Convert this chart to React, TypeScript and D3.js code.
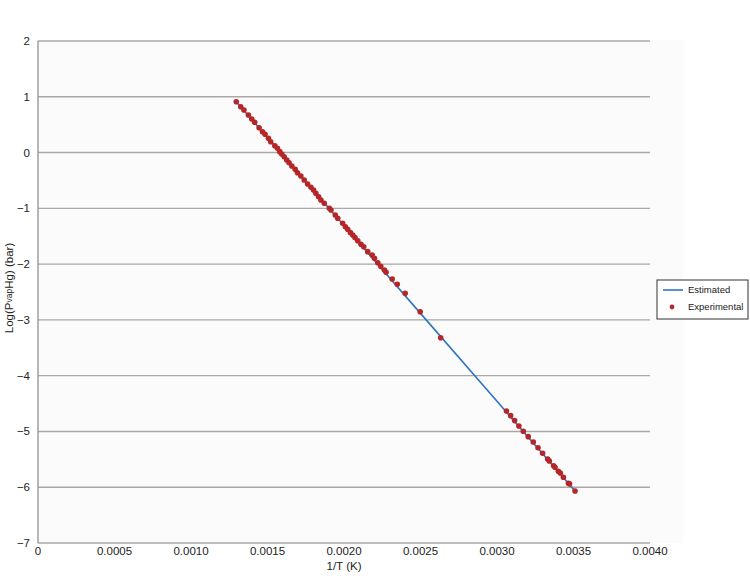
import React from 'react';
import * as d3 from 'd3';

// 1/T (1/K) and log10(P) (bar) of the experimental points
const expInvT = [
  0.001296, 0.001325, 0.001346, 0.001375, 0.001397, 0.001416, 0.001445, 0.001467, 0.001484, 0.001506,
  0.001521, 0.001548, 0.001565, 0.001580, 0.001593, 0.001609, 0.001626, 0.001641, 0.001659, 0.001681,
  0.001696, 0.001718, 0.001740, 0.001762, 0.001784, 0.001801, 0.001816, 0.001834, 0.001849, 0.001871,
  0.001904, 0.001915, 0.001943, 0.001959, 0.001991, 0.002009, 0.002024, 0.002042, 0.002057, 0.002072,
  0.002090, 0.002111, 0.002129, 0.002155, 0.002184, 0.002199, 0.002221, 0.002240, 0.002264, 0.002275,
  0.002315, 0.002348, 0.002400, 0.002498, 0.002632, 0.003062, 0.003089, 0.003115, 0.003143, 0.003172,
  0.003204, 0.003237, 0.003268, 0.003298, 0.003331, 0.003342, 0.003370, 0.003379, 0.003401, 0.003414,
  0.003434, 0.003467, 0.003474, 0.003510,
];
const expLogP = [
  0.912, 0.822, 0.763, 0.673, 0.602, 0.542, 0.446, 0.374, 0.327, 0.256,
  0.195, 0.123, 0.076, 0.016, -0.026, -0.074, -0.133, -0.182, -0.241, -0.301,
  -0.361, -0.420, -0.492, -0.564, -0.623, -0.671, -0.731, -0.791, -0.850, -0.910,
  -0.999, -1.030, -1.119, -1.179, -1.268, -1.329, -1.376, -1.436, -1.478, -1.526,
  -1.580, -1.645, -1.688, -1.777, -1.837, -1.896, -1.975, -2.040, -2.105, -2.147,
  -2.267, -2.362, -2.524, -2.853, -3.319, -4.633, -4.717, -4.806, -4.902, -4.997,
  -5.093, -5.189, -5.291, -5.392, -5.494, -5.530, -5.614, -5.643, -5.715, -5.745,
  -5.822, -5.930, -5.940, -6.067,
];

// estimated curve
const estInvT = [0.001296, 0.0020, 0.0025, 0.0030, 0.003510];
const estLogP = [0.912, -1.307, -2.883, -4.460, -6.067];

const xTicks = [0, 0.0005, 0.001, 0.0015, 0.002, 0.0025, 0.003, 0.0035, 0.004];
const yTicks = [2, 1, 0, -1, -2, -3, -4, -5, -6, -7];

const W = 750;
const H = 578;
const M = { left: 38, right: 650, top: 41, bottom: 543 };
const FONT = '"Liberation Sans", Arial, Helvetica, sans-serif';

export default function App() {
  const x = d3.scaleLinear().domain([0, 0.004]).range([M.left, M.right]);
  const y = d3.scaleLinear().domain([-7, 2]).range([M.bottom, M.top]);

  const line = d3.line<number>()
    .x((d) => x(d))
    .y((_, i) => y(estLogP[i]));

  const fmtX = (v: number) => (v === 0 ? '0' : v.toFixed(4));
  const fmtY = (v: number) => (v < 0 ? '\u2212' + Math.abs(v) : String(v));

  return (
    <svg width={W} height={H} style={{ position: 'absolute', left: 0, top: 0, background: '#fff' }} fontFamily={FONT}>
      <rect x={M.left} y={M.top - 1} width={683 - M.left} height={M.bottom - M.top + 1} fill="#fbfbfb" />

      {/* gridlines */}
      {yTicks.map((t) => (
        <line key={t} x1={M.left} x2={M.right} y1={y(t)} y2={y(t)} stroke="#aaa7a4" strokeWidth={1.4} />
      ))}
      <line x1={M.left} x2={M.left} y1={M.top} y2={M.bottom} stroke="#999" strokeWidth={1.4} />

      {/* y tick labels */}
      {yTicks.map((t) => (
        <text key={t} x={30} y={y(t)} dy="0.35em" textAnchor="end" fontSize={11.5} fill="#222">{fmtY(t)}</text>
      ))}
      {/* x tick labels */}
      {xTicks.map((t) => (
        <text key={t} x={x(t)} y={555} textAnchor="middle" fontSize={11.5} fill="#222">{fmtX(t)}</text>
      ))}

      <text x={(M.left + M.right) / 2} y={570} textAnchor="middle" fontSize={11.5} fill="#222">1/T (K)</text>
      <text transform={`translate(13,${(M.top + M.bottom) / 2 - 4}) rotate(-90)`} textAnchor="middle" fontSize={11.5} fill="#222">
        Log(P<tspan fontSize={8.5} dy={-1}>vap</tspan><tspan dy={1}>Hg) (bar)</tspan>
      </text>

      {/* estimated line */}
      <path d={line(estInvT) || ''} fill="none" stroke="#2f74c0" strokeWidth={1.6} />

      {/* experimental points */}
      {expInvT.map((v, i) => (
        <circle key={i} cx={x(v)} cy={y(expLogP[i])} r={2.8} fill="#b42628" />
      ))}

      {/* legend */}
      <rect x={657} y={280} width={91} height={39} fill="#fff" stroke="#333" strokeWidth={1} />
      <line x1={663} x2={683} y1={290} y2={290} stroke="#2f74c0" strokeWidth={1.6} />
      <text x={688} y={290} dy="0.35em" fontSize={9.5} fill="#222">Estimated</text>
      <circle cx={672} cy={307} r={2.4} fill="#b42628" />
      <text x={688} y={307} dy="0.35em" fontSize={9.5} fill="#222">Experimental</text>
    </svg>
  );
}
